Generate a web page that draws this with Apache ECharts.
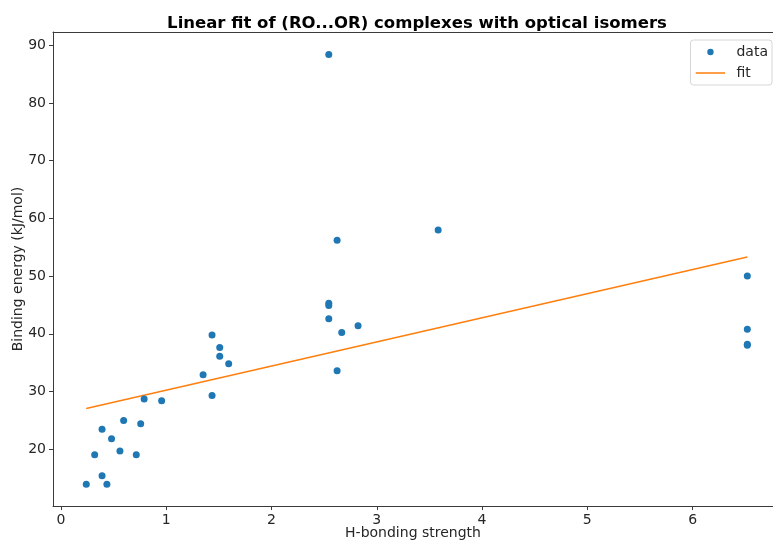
<!DOCTYPE html>
<html>
<head>
<meta charset="utf-8">
<script src="https://cdn.jsdelivr.net/npm/echarts@6/dist/echarts.min.js"></script>
<style>
  html, body { margin: 0; padding: 0; background: #fff; overflow: hidden; }
  #chart { width: 773px; height: 542px; }
</style>
</head>
<body>
<div id="chart"></div>
<script>
// H-bonding strength vs binding energy of (RO...OR) complexes
const hbondStrength = [
  0.24, 0.436, 0.39, 0.32, 0.39, 0.48, 0.56, 0.595, 0.715, 0.757,
  0.79, 0.956, 1.35, 1.435, 1.593, 1.435, 1.508, 1.508,
  2.544, 2.667, 2.822, 2.623, 2.544, 2.623, 3.583, 2.544, 2.544,
  6.52, 6.52, 6.52, 6.52
];
const bindingEnergy = [
  13.9, 13.9, 15.4, 19.05, 23.45, 21.8, 19.7, 24.95, 19.05, 24.4,
  28.7, 28.4, 32.9, 29.3, 34.8, 39.8, 37.6, 36.1,
  42.6, 40.2, 41.4, 33.6, 88.4, 56.2, 58.0, 45.3, 44.9,
  50.0, 40.8, 38.2, 38.0
];
// fitted line, evaluated at the ends of the data range
const fitX = [0.24, 6.52];
const fitY = [27.06, 53.31];

const xTicks = [0, 1, 2, 3, 4, 5, 6];
const yTicks = [20, 30, 40, 50, 60, 70, 80, 90];

const textColor = '#262626';
const spineColor = '#3a3a3a';
const font = 'DejaVu Sans';

// visible part of the x range (the plot is cut off at the right edge)
const xMin = -0.076, xMax = 6.764;

const chart = echarts.init(document.getElementById('chart'), null, { renderer: 'canvas' });
chart.setOption({
  animation: false,
  backgroundColor: '#ffffff',
  title: {
    text: 'Linear fit of (RO...OR) complexes with optical isomers',
    left: 412, top: 10, textAlign: 'center',
    textStyle: { fontFamily: font, fontWeight: 'bold', fontSize: 16.5, color: '#000' }
  },
  legend: {
    right: 1, top: 40, orient: 'vertical',
    itemGap: 5, itemWidth: 30, itemHeight: 16,
    padding: [4, 4, 4, 5],
    borderColor: '#d6d6d6', borderWidth: 1, borderRadius: 3,
    backgroundColor: 'rgba(255,255,255,0.8)',
    textStyle: { fontFamily: font, fontSize: 14, color: textColor, padding: [0, 0, 0, 6] },
    data: [
      { name: 'data', icon: 'image://data:image/svg+xml;utf8,' + encodeURIComponent('<svg xmlns="http://www.w3.org/2000/svg" width="30" height="16"><circle cx="15" cy="8" r="3.2" fill="#1f77b4"/></svg>') },
      { name: 'fit', icon: 'image://data:image/svg+xml;utf8,' + encodeURIComponent('<svg xmlns="http://www.w3.org/2000/svg" width="30" height="16"><rect x="0" y="7.25" width="30" height="1.5" fill="#ff7f0e"/></svg>') }
    ]
  },
  grid: {
    left: 53, top: 32, right: 0, bottom: 36,
    containLabel: false, outerBoundsMode: 'none', show: false
  },
  xAxis: [
    {
      type: 'value', min: xMin, max: xMax,
      name: 'H-bonding strength', nameLocation: 'middle', nameGap: 20, nameMoveOverlap: false,
      nameTextStyle: { fontFamily: font, fontSize: 14, color: textColor },
      splitLine: { show: false },
      axisLine: { show: true, onZero: false, lineStyle: { color: spineColor, width: 1 } },
      axisTick: { show: true, length: 4, lineStyle: { color: spineColor }, customValues: xTicks },
      axisLabel: { fontFamily: font, fontSize: 14, color: textColor, margin: 7, customValues: xTicks }
    },
    {
      // top spine
      type: 'value', position: 'top', min: xMin, max: xMax,
      splitLine: { show: false },
      axisLine: { show: true, onZero: false, lineStyle: { color: spineColor, width: 1 } },
      axisTick: { show: false },
      axisLabel: { show: false }
    }
  ],
  yAxis: {
    type: 'value', min: 10.15, max: 92.3,
    name: 'Binding energy (kJ/mol)', nameLocation: 'middle', nameGap: 28, nameRotate: 90,
    nameMoveOverlap: false,
    nameTextStyle: { fontFamily: font, fontSize: 14, color: textColor },
    splitLine: { show: false },
    axisLine: { show: true, onZero: false, lineStyle: { color: spineColor, width: 1 } },
    axisTick: { show: true, length: 4, lineStyle: { color: spineColor }, customValues: yTicks },
    axisLabel: { fontFamily: font, fontSize: 14, color: textColor, margin: 7, customValues: yTicks }
  },
  series: [
    {
      name: 'data', type: 'scatter', symbol: 'circle', symbolSize: 7,
      itemStyle: { color: '#1f77b4', opacity: 1 },
      data: hbondStrength.map((x, i) => [x, bindingEnergy[i]]),
      z: 3
    },
    {
      name: 'fit', type: 'line', symbol: 'none', showSymbol: false,
      lineStyle: { color: '#ff7f0e', width: 1.5 },
      itemStyle: { color: '#ff7f0e' },
      data: fitX.map((x, i) => [x, fitY[i]]),
      z: 2
    }
  ]
});
</script>
</body>
</html>
